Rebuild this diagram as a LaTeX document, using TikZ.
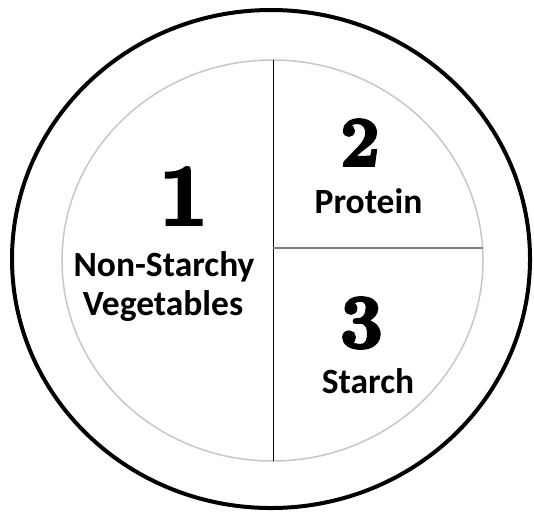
\documentclass[tikz,border=0pt]{standalone}
\usepackage{fontspec}
\setmainfont{Carlito}
\newfontfamily\digitfont[FakeBold=4]{Latin Modern Roman}
\usetikzlibrary{shapes.geometric}
\tikzset{
  plate/.style={ellipse, draw=black, line width=4pt, inner sep=0pt},
  innerplate/.style={ellipse, draw=black!22, line width=1.5pt, inner sep=0pt},
  divider/.style={draw=black, line width=1pt},
  hdivider/.style={draw=black!50, line width=1.5pt},
  label/.style={font=\fontsize{35.5}{40}\selectfont\bfseries, inner sep=0pt, anchor=base},
  numeral/.style={inner sep=0pt},
}
\begin{document}
\begin{tikzpicture}[x=1pt,y=-1pt]
\useasboundingbox (0,0) rectangle (534,512);
\node[plate, minimum width=518pt, minimum height=498pt] (outer) at (271,259) {};
\node[innerplate, minimum width=421pt, minimum height=401pt] (inner) at (272.5,260.5) {};
\coordinate (vtop) at (273,60);
\coordinate (vbot) at (273,461);
\coordinate (hleft) at (273,248);
\coordinate (hright) at (482.6,248);
\draw[divider] (vtop) -- (vbot);
\draw[hdivider] (hleft) -- (hright);
\node[numeral, font=\digitfont\bfseries\fontsize{86}{86}\selectfont] (n1) at (183.5,196) {1};
\node[numeral, font=\digitfont\bfseries\fontsize{70}{70}\selectfont] (n2) at (360,142.5) {2};
\node[numeral, font=\digitfont\bfseries\fontsize{76}{76}\selectfont] (n3) at (361.5,323) {3};
\node[label] (l1a) at (164,276) {Non-Starchy};
\node[label] (l1b) at (163,315) {Vegetables};
\node[label] (l2) at (368.5,213) {Protein};
\node[label] (l3) at (368,393) {Starch};
\end{tikzpicture}
\end{document}
